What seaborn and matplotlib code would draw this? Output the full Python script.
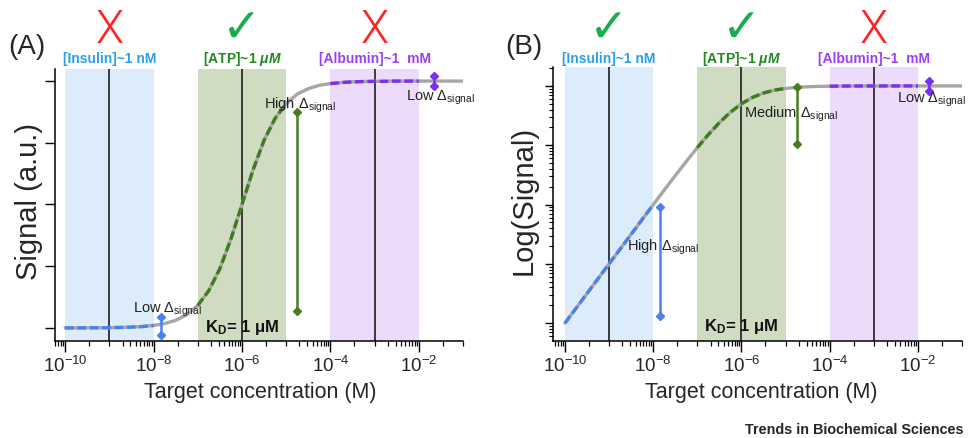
import numpy as np
import matplotlib
matplotlib.use("Agg")
import matplotlib.pyplot as plt
import matplotlib.ticker as mticker
import pandas as pd
import seaborn as sns

# ---------------- data ----------------
log_conc = [-10.0, -9.75, -9.5, -9.25, -9.0, -8.75, -8.5, -8.25, -8.0,
            -7.75, -7.5, -7.25, -7.0, -6.75, -6.5, -6.25, -6.0, -5.75,
            -5.5, -5.25, -5.0, -4.75, -4.5, -4.25, -4.0, -3.75, -3.5,
            -3.25, -3.0, -2.75, -2.5, -2.25, -2.0, -1.75, -1.5, -1.25, -1.0]
signal = [1.00e-4, 1.78e-4, 3.16e-4, 5.62e-4, 1.00e-3, 1.77e-3, 3.15e-3,
          5.59e-3, 9.90e-3, 0.0175, 0.0307, 0.0532, 0.0909, 0.151, 0.240,
          0.360, 0.500, 0.640, 0.760, 0.849, 0.909, 0.947, 0.969, 0.983,
          0.990, 0.994, 0.997, 0.998, 0.999, 0.999, 1.000, 1.000, 1.000,
          1.000, 1.000, 1.000, 1.000]

targets = ["[Insulin]~1 nM", "[ATP]~1 $\\mathbfit{\\mu M}$", "[Albumin]~1  mM"]
target_conc = [1e-9, 1e-6, 1e-3]
target_ranges = [(1e-10, 1e-8), (1e-7, 1e-5), (1e-4, 1e-2)]
verdict_A = ["X", "check", "X"]
verdict_B = ["check", "check", "X"]

# Delta-signal bars: x position, low end, high end
arrowA_x = [1.5e-8, 1.8e-5, 2.2e-2]
arrowA_lo = [-0.028, 0.07, 0.98]
arrowA_hi = [0.045, 0.875, 1.02]
arrowB_x = [1.4e-8, 1.8e-5, 1.8e-2]
arrowB_lo = [1.3e-4, 0.105, 0.82]
arrowB_hi = [9.0e-3, 0.95, 1.2]

labelA = [("Low", 10**-8.46, 0.077), ("High", 10**-5.5, 0.907), ("Low", 10**-2.29, 0.935)]
labelB = [("High", 10**-8.6, 10**-2.70), ("Medium", 10**-5.95, 10**-0.47), ("Low", 10**-2.47, 10**-0.22)]

# ---------------- style ----------------
sns.set_style("ticks")
plt.rcParams["font.family"] = ["Liberation Sans", "DejaVu Sans"]
plt.rcParams["mathtext.fontset"] = "custom"
plt.rcParams["mathtext.rm"] = "Liberation Sans"
plt.rcParams["mathtext.it"] = "Liberation Sans:italic"
plt.rcParams["mathtext.bf"] = "Liberation Sans:bold"
try:
    plt.rcParams["mathtext.bfit"] = "Liberation Sans:bold:italic"
except Exception:
    pass

span_cols = ["#ddecfb", "#cfdcc1", "#ecdbfb"]
text_cols = ["#2a9ef0", "#1f8a1f", "#9a3ff7"]
line_cols = ["#4a80f0", "#3f7d1c", "#7a30f0"]
arrow_cols = ["#4a80f0", "#4a7c1e", "#7a30f0"]
gray = "#a6a6a6"
red = "#ff2222"
checkgreen = "#1aaa50"

df = pd.DataFrame({"conc": 10 ** np.array(log_conc), "signal": signal})

fig = plt.figure(figsize=(9.68, 4.39), dpi=100)
axA = fig.add_axes([0.0568, 0.221, 0.4215, 0.6196])
axB = fig.add_axes([0.5713, 0.221, 0.4225, 0.6242])


def decorate(ax, log_y, verdicts, vy, ly):
    ax.set_xscale("log")
    if log_y:
        ax.set_yscale("log")
    for (lo, hi), c in zip(target_ranges, span_cols):
        ax.axvspan(lo, hi, color=c, lw=0, zorder=0)
    for xc in target_conc:
        ax.axvline(xc, color="#1e1e1e", lw=1.2, zorder=1)
    sns.lineplot(data=df, x="conc", y="signal", ax=ax, color=gray, lw=2.4,
                 estimator=None, sort=False, zorder=3)
    for (lo, hi), c in zip(target_ranges, line_cols):
        sub = df[(df.conc >= lo * 0.999) & (df.conc <= hi * 1.001)]
        sns.lineplot(data=sub, x="conc", y="signal", ax=ax, color=c, lw=2.4,
                     estimator=None, sort=False, zorder=4)
        ax.lines[-1].set_dashes([2.6, 1.1])
    tr = ax.get_xaxis_transform()
    for xc, t, c, v in zip(target_conc, targets, text_cols, verdicts):
        ax.text(xc, ly, t, transform=tr, ha="center", va="center",
                color=c, fontsize=10, fontweight="bold", clip_on=False)
        if v == "X":
            ax.text(xc, vy, "X", transform=tr, ha="center", va="center",
                    color=red, fontsize=33, family=["Roboto", "Liberation Sans"],
                    fontweight=300, clip_on=False)
        else:
            ax.text(xc, vy, "\u2713", transform=tr, ha="center", va="center",
                    color=checkgreen, fontsize=34, family="DejaVu Sans",
                    clip_on=False)
    ax.text(1e-6, 0.055, "K$_{\\mathbf{D}}$= 1 \u03bcM", transform=tr,
            ha="center", va="center", fontsize=12, fontweight="bold",
            color="#111111", zorder=5)
    # x ticks
    majors = [10.0 ** e for e in range(-10, -1, 2)]
    minors = []
    for d in range(-11, 0):
        if d % 2 != 0:
            minors.append(10.0 ** d)
            minors += [k * 10.0 ** d for k in range(2, 10)]
        else:
            minors.append(3.5 * 10.0 ** d)
    ax.xaxis.set_major_locator(mticker.FixedLocator(majors))
    ax.xaxis.set_major_formatter(mticker.FixedFormatter(
        ["$10^{%d}$" % e for e in range(-10, -1, 2)]))
    ax.xaxis.set_minor_locator(mticker.FixedLocator(minors))
    ax.xaxis.set_minor_formatter(mticker.NullFormatter())
    ax.tick_params(axis="x", which="major", direction="out", length=8,
                   width=1.0, labelsize=13.5, pad=2.0, color="black")
    ax.tick_params(axis="x", which="minor", direction="out", length=3.8,
                   width=0.9, color="black")
    for s in ["top", "right"]:
        ax.spines[s].set_visible(False)
    for s in ["left", "bottom"]:
        ax.spines[s].set_linewidth(1.1)
        ax.spines[s].set_color("black")
    ax.set_xlabel("Target concentration (M)", fontsize=15.5)


# ---------- Panel A ----------
decorate(axA, False, verdict_A, 1.147, 1.04)
axA.set_xlim(10 ** -10.23, 10 ** -1.0)
axA.set_ylim(-0.053, 1.049)
axA.set_yticks([0, 0.25, 0.5, 0.75, 1.0])
axA.set_yticklabels([])
axA.tick_params(axis="y", which="major", direction="out", length=7.2,
                width=1.0, color="black")
axA.set_ylabel("Signal (a.u.)", fontsize=21)
axA.yaxis.set_label_coords(-0.029, 0.518)
axA.xaxis.set_label_coords(0.504, -0.147)
for x, lo, hi, c in zip(arrowA_x, arrowA_lo, arrowA_hi, arrow_cols):
    axA.plot([x, x], [lo, hi], color=c, lw=1.8, marker="D", ms=3.8, zorder=6)
for w, x, y in labelA:
    axA.text(x, y, w + " $\\Delta_{\\mathrm{signal}}$", fontsize=10.5,
             color="#222222", ha="left", va="center", zorder=7)

# ---------- Panel B ----------
decorate(axB, True, verdict_B, 1.139, 1.033)
axB.set_xlim(10 ** -10.27, 10 ** -1.0)
axB.set_ylim(10 ** -4.30, 10 ** 0.32)
axB.yaxis.set_major_locator(mticker.LogLocator(base=10, numticks=10))
axB.yaxis.set_minor_locator(mticker.LogLocator(base=10, subs=np.arange(2, 10), numticks=20))
axB.yaxis.set_major_formatter(mticker.NullFormatter())
axB.yaxis.set_minor_formatter(mticker.NullFormatter())
axB.tick_params(axis="y", which="major", direction="out", length=6,
                width=1.0, color="black")
axB.tick_params(axis="y", which="minor", direction="out", length=3,
                width=0.8, color="black")
axB.set_ylabel("Log(Signal)", fontsize=21)
axB.yaxis.set_label_coords(-0.037, 0.518)
axB.xaxis.set_label_coords(0.51, -0.146)
for x, lo, hi, c in zip(arrowB_x, arrowB_lo, arrowB_hi, arrow_cols):
    axB.plot([x, x], [lo, hi], color=c, lw=1.8, marker="D", ms=3.8, zorder=6)
for w, x, y in labelB:
    axB.text(x, y, w + " $\\Delta_{\\mathrm{signal}}$", fontsize=10.5,
             color="#222222", ha="left", va="center", zorder=7)

# ---------- figure texts ----------
fig.text(8 / 968, 1 - 47 / 439, "(A)", fontsize=20, va="center", ha="left")
fig.text(505 / 968, 1 - 47 / 439, "(B)", fontsize=20, va="center", ha="left")
fig.text(0.995, 0.0205, "Trends in Biochemical Sciences", fontsize=10.4,
         fontweight="bold", ha="right", va="center")

fig.savefig("out.png", dpi=100)
